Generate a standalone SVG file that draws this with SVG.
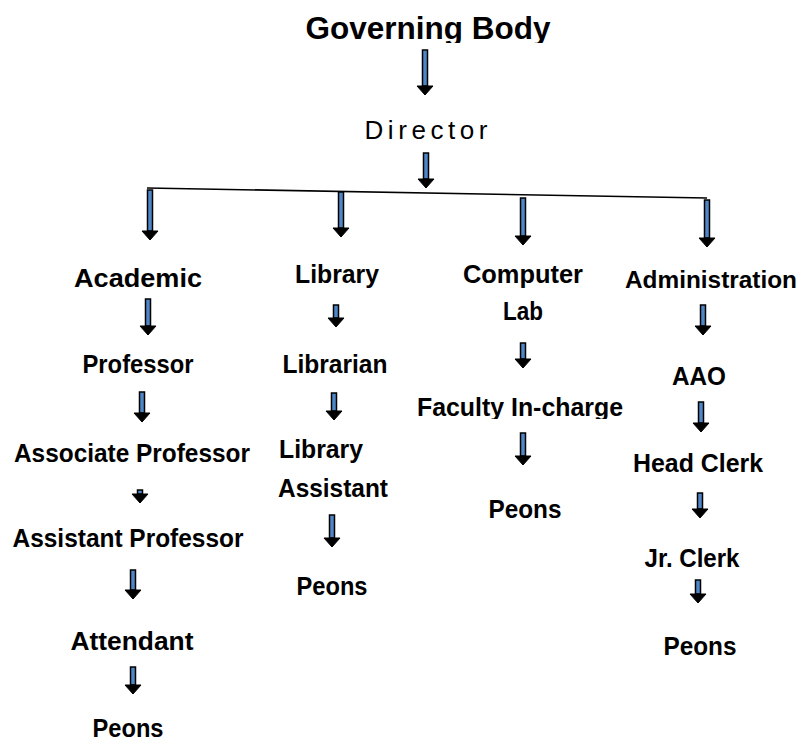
<svg xmlns="http://www.w3.org/2000/svg" xmlns:xlink="http://www.w3.org/1999/xlink" width="806" height="744" viewBox="0 0 806 744">
<style>
.lbl{font-family:"Liberation Sans",Arial,sans-serif;font-weight:bold;font-size:26px;fill:#000;text-anchor:middle}
.dir{font-family:"Liberation Sans",Arial,sans-serif;font-weight:normal;font-size:26px;fill:#000;text-anchor:middle}
.shaft{fill:#4f86c6;stroke:#000;stroke-width:1.5}
.head{fill:#000;stroke:#000;stroke-width:1;stroke-linejoin:miter}
.hline{stroke:#000;stroke-width:1.6;fill:none}
</style>
<defs>
<path id="ah" class="head" d="M-8,0 L8,0 L0,9 Z"/>
<clipPath id="clipTop"><rect x="0" y="0" width="806" height="43"/></clipPath>
<clipPath id="clipFac"><rect x="0" y="0" width="806" height="419"/></clipPath>
</defs>
<rect width="806" height="744" fill="#fff"/>
<g id="connectors">
<line class="hline" x1="147" y1="188" x2="707" y2="198"/>
<g id="a1"><rect class="shaft" x="422.5" y="50" width="5" height="36"/><use xlink:href="#ah" x="425" y="86"/></g>
<g id="a2"><rect class="shaft" x="423.5" y="153" width="5" height="26"/><use xlink:href="#ah" x="426" y="179"/></g>
<g id="b1"><rect class="shaft" x="147.5" y="190" width="5" height="41"/><use xlink:href="#ah" x="150" y="231"/></g>
<g id="b2"><rect class="shaft" x="338.5" y="192" width="5" height="36"/><use xlink:href="#ah" x="341" y="228"/></g>
<g id="b3"><rect class="shaft" x="520.5" y="198" width="5" height="38"/><use xlink:href="#ah" x="523" y="236"/></g>
<g id="b4"><rect class="shaft" x="704.5" y="200" width="5" height="38"/><use xlink:href="#ah" x="707" y="238"/></g>
<g id="c1"><rect class="shaft" x="145.5" y="299" width="5" height="27"/><use xlink:href="#ah" x="148" y="326"/></g>
<g id="c2"><rect class="shaft" x="139.5" y="392" width="5" height="21"/><use xlink:href="#ah" x="142" y="413"/></g>
<g id="c3"><rect class="shaft" x="137.5" y="490" width="5" height="4"/><use xlink:href="#ah" x="140" y="494"/></g>
<g id="c4"><rect class="shaft" x="130.5" y="570" width="5" height="20"/><use xlink:href="#ah" x="133" y="590"/></g>
<g id="c5"><rect class="shaft" x="130.5" y="667" width="5" height="18"/><use xlink:href="#ah" x="133" y="685"/></g>
<g id="l1"><rect class="shaft" x="333.5" y="305" width="5" height="13"/><use xlink:href="#ah" x="336" y="318"/></g>
<g id="l2"><rect class="shaft" x="331.5" y="393" width="5" height="18"/><use xlink:href="#ah" x="334" y="411"/></g>
<g id="l3"><rect class="shaft" x="329.5" y="515" width="5" height="23"/><use xlink:href="#ah" x="332" y="538"/></g>
<g id="p1"><rect class="shaft" x="520.5" y="343" width="5" height="16"/><use xlink:href="#ah" x="523" y="359"/></g>
<g id="p2"><rect class="shaft" x="520.5" y="433" width="5" height="23"/><use xlink:href="#ah" x="523" y="456"/></g>
<g id="d1"><rect class="shaft" x="700.5" y="305" width="5" height="21"/><use xlink:href="#ah" x="703" y="326"/></g>
<g id="d2"><rect class="shaft" x="698.5" y="402" width="5" height="21"/><use xlink:href="#ah" x="701" y="423"/></g>
<g id="d3"><rect class="shaft" x="697.5" y="493" width="5" height="16"/><use xlink:href="#ah" x="700" y="509"/></g>
<g id="d4"><rect class="shaft" x="695.5" y="580" width="5" height="14"/><use xlink:href="#ah" x="698" y="594"/></g>
</g>
<g id="governing-body" clip-path="url(#clipTop)"><text class="lbl" x="428" y="39" style="font-size:31px" textLength="245" lengthAdjust="spacingAndGlyphs">Governing Body</text></g>
<g id="director"><text class="dir" x="426" y="139" textLength="123" lengthAdjust="spacing">Director</text></g>
<g id="academic"><text class="lbl" x="138" y="287" textLength="128" lengthAdjust="spacingAndGlyphs">Academic</text></g>
<g id="professor"><text class="lbl" x="138" y="373" textLength="111" lengthAdjust="spacingAndGlyphs">Professor</text></g>
<g id="associate-professor"><text class="lbl" x="132" y="462" textLength="236" lengthAdjust="spacingAndGlyphs">Associate Professor</text></g>
<g id="assistant-professor"><text class="lbl" x="128" y="547" textLength="231" lengthAdjust="spacingAndGlyphs">Assistant Professor</text></g>
<g id="attendant"><text class="lbl" x="132" y="650" textLength="123" lengthAdjust="spacingAndGlyphs">Attendant</text></g>
<g id="peons-academic"><text class="lbl" x="128" y="737" textLength="71" lengthAdjust="spacingAndGlyphs">Peons</text></g>
<g id="library"><text class="lbl" x="337" y="283" textLength="84" lengthAdjust="spacingAndGlyphs">Library</text></g>
<g id="librarian"><text class="lbl" x="335" y="373" textLength="105" lengthAdjust="spacingAndGlyphs">Librarian</text></g>
<g id="library-assistant"><text class="lbl" x="279" y="458" style="text-anchor:start" textLength="84" lengthAdjust="spacingAndGlyphs">Library</text><text class="lbl" x="278" y="497" style="text-anchor:start" textLength="110" lengthAdjust="spacingAndGlyphs">Assistant</text></g>
<g id="peons-library"><text class="lbl" x="332" y="595" textLength="71" lengthAdjust="spacingAndGlyphs">Peons</text></g>
<g id="computer-lab"><text class="lbl" x="523" y="283" textLength="120" lengthAdjust="spacingAndGlyphs">Computer</text><text class="lbl" x="523" y="320" textLength="40" lengthAdjust="spacingAndGlyphs">Lab</text></g>
<g id="faculty-in-charge" clip-path="url(#clipFac)"><text class="lbl" x="520" y="416" textLength="206" lengthAdjust="spacingAndGlyphs">Faculty In-charge</text></g>
<g id="peons-computer"><text class="lbl" x="525" y="518" textLength="73" lengthAdjust="spacingAndGlyphs">Peons</text></g>
<g id="administration"><text class="lbl" x="711" y="288" style="font-size:24px" textLength="172" lengthAdjust="spacingAndGlyphs">Administration</text></g>
<g id="aao"><text class="lbl" x="699" y="385" textLength="54" lengthAdjust="spacingAndGlyphs">AAO</text></g>
<g id="head-clerk"><text class="lbl" x="698" y="472" textLength="130" lengthAdjust="spacingAndGlyphs">Head Clerk</text></g>
<g id="jr-clerk"><text class="lbl" x="692" y="567" textLength="95" lengthAdjust="spacingAndGlyphs">Jr. Clerk</text></g>
<g id="peons-admin"><text class="lbl" x="700" y="655" textLength="73" lengthAdjust="spacingAndGlyphs">Peons</text></g>
</svg>
